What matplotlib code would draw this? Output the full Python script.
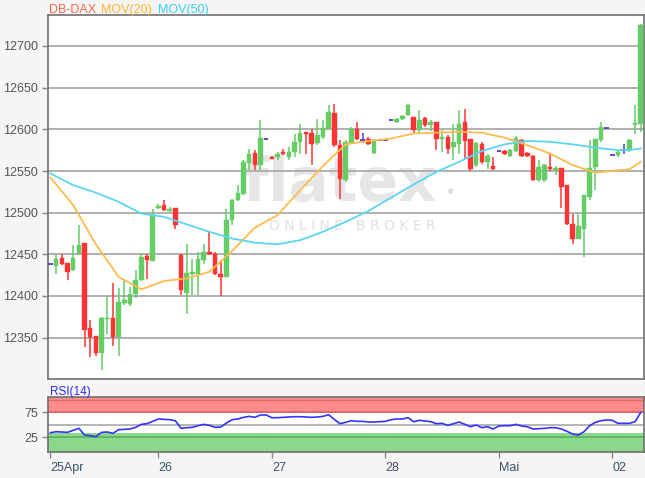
import matplotlib
matplotlib.use("Agg")
import matplotlib.pyplot as plt
import numpy as np

# ---------------- data ----------------
opens = [12438, 12436, 12446, 12439, 12431, 12450, 12463, 12361, 12352, 12332,
         12372, 12374, 12351, 12392, 12391, 12403, 12419, 12448, 12442, 12506,
         12509, 12502, 12505, 12449, 12404, 12427, 12426, 12443, 12453, 12451,
         12426, 12423, 12491, 12515, 12523, 12560, 12571, 12557, 12588, 12567,
         12567, 12573, 12567, 12573, 12585, 12596, 12596, 12584, 12591, 12601,
         12619, 12581, 12539, 12584, 12600, 12587, 12589, 12572, 12587, 12587,
         12611, 12609, 12612, 12617, 12615, 12599, 12613, 12605, 12609, 12589,
         12591, 12579, 12583, 12609, 12589, 12557, 12583, 12561, 12556, 12574,
         12574, 12568, 12574, 12587, 12572, 12568, 12539, 12539, 12555, 12551,
         12554, 12533, 12486, 12469, 12481, 12519, 12555, 12587, 12602, 12569,
         12569, 12575, 12575, 12605, 12607]
closes = [12438, 12445, 12438, 12429, 12446, 12461, 12359, 12351, 12332, 12373,
          12374, 12351, 12393, 12395, 12403, 12419, 12447, 12443, 12497, 12508,
          12503, 12505, 12485, 12407, 12428, 12428, 12444, 12453, 12451, 12427,
          12423, 12491, 12515, 12523, 12561, 12570, 12557, 12590, 12588, 12565,
          12571, 12570, 12573, 12585, 12596, 12595, 12583, 12593, 12602, 12621,
          12581, 12541, 12585, 12600, 12589, 12587, 12583, 12587, 12587, 12587,
          12611, 12613, 12616, 12629, 12599, 12611, 12605, 12609, 12589, 12591,
          12577, 12585, 12607, 12586, 12553, 12583, 12561, 12568, 12552, 12574,
          12570, 12575, 12590, 12568, 12568, 12539, 12555, 12557, 12553, 12554,
          12531, 12487, 12469, 12484, 12521, 12554, 12588, 12603, 12602, 12569,
          12573, 12575, 12587, 12607, 12725]
highs = [12438, 12449, 12451, 12440, 12461, 12485, 12464, 12371, 12352, 12375,
         12400, 12416, 12410, 12420, 12411, 12431, 12452, 12451, 12505, 12510,
         12515, 12507, 12506, 12451, 12463, 12445, 12453, 12463, 12477, 12453,
         12443, 12505, 12517, 12533, 12563, 12577, 12575, 12611, 12588, 12568,
         12573, 12576, 12579, 12595, 12607, 12597, 12600, 12613, 12611, 12629,
         12630, 12587, 12587, 12603, 12609, 12596, 12591, 12589, 12587, 12587,
         12611, 12614, 12617, 12631, 12615, 12623, 12615, 12611, 12609, 12599,
         12593, 12607, 12623, 12625, 12589, 12585, 12585, 12570, 12567, 12574,
         12575, 12577, 12592, 12589, 12573, 12569, 12563, 12559, 12571, 12556,
         12554, 12533, 12499, 12498, 12521, 12587, 12589, 12609, 12602, 12569,
         12575, 12583, 12588, 12629, 12727]
lows = [12438, 12426, 12437, 12419, 12430, 12450, 12339, 12327, 12328, 12311,
        12355, 12340, 12328, 12389, 12388, 12398, 12418, 12420, 12442, 12504,
        12502, 12501, 12481, 12401, 12379, 12401, 12401, 12439, 12449, 12425,
        12400, 12423, 12485, 12514, 12521, 12551, 12551, 12551, 12588, 12564,
        12563, 12569, 12563, 12567, 12571, 12571, 12557, 12581, 12589, 12600,
        12579, 12517, 12537, 12583, 12587, 12584, 12581, 12571, 12587, 12587,
        12611, 12608, 12611, 12616, 12595, 12595, 12603, 12598, 12575, 12573,
        12571, 12563, 12570, 12565, 12550, 12555, 12559, 12553, 12551, 12574,
        12569, 12567, 12573, 12567, 12567, 12538, 12537, 12537, 12550, 12545,
        12506, 12485, 12463, 12469, 12447, 12515, 12527, 12585, 12602, 12569,
        12567, 12571, 12573, 12595, 12597]

ma_idx = [0, 4, 8, 12, 16, 20, 24, 28, 32, 36, 40, 44, 48, 52, 56, 60, 64, 68,
          72, 76, 80, 84, 88, 92, 96, 100, 102, 104]
ma20 = [12542, 12509, 12462, 12423, 12408, 12418, 12421, 12429, 12454, 12482,
        12497, 12527, 12556, 12582, 12586, 12589, 12595, 12596, 12597, 12596,
        12590, 12581, 12571, 12557, 12548, 12551, 12552, 12561]
ma50 = [12547, 12533, 12524, 12513, 12499, 12495, 12486, 12477, 12469, 12464,
        12462, 12467, 12477, 12489, 12502, 12518, 12534, 12549, 12561, 12574,
        12582, 12586, 12585, 12582, 12578, 12575, 12575, 12577]

rsi = [34.3, 36.3, 35.7, 35, 39, 43, 29.7, 28.3, 26.3, 35,
       35.7, 33, 40.3, 41, 41.7, 45, 51, 52.3, 57, 61.7,
       61, 60.3, 58.3, 43, 44.3, 45, 48.3, 51, 49, 45,
       45.7, 53.7, 60.3, 61.7, 65, 67, 65, 69.7, 69.7, 64.3,
       64.3, 65, 65.7, 66.3, 66.3, 65.7, 65, 65.7, 67, 70.3,
       61, 52.3, 55, 58.3, 57, 57, 55.7, 55.7, 56.3, 57,
       60.3, 61.7, 61.7, 64.3, 56.3, 59, 57.7, 56.3, 52.3, 53,
       49, 52.3, 55.7, 51, 46.3, 49.7, 44.3, 46.3, 41.7, 47.7,
       48.3, 48.3, 51, 47.7, 46.3, 41.7, 42.3, 43, 44.3, 44.3,
       41.7, 37, 31.7, 29.7, 36.3, 48.3, 55, 58.3, 59.7, 59,
       53, 53, 53, 56.3, 75]

day_idx = [0, 19, 39, 59, 79, 99]
day_labels = ["25Apr", "26", "27", "28", "Mai", "02"]
price_ticks = [12350, 12400, 12450, 12500, 12550, 12600, 12650, 12700]
rsi_ticks = [25, 75]

# ---------------- styling ----------------
plt.rcParams['font.family'] = ['Liberation Sans', 'DejaVu Sans']
GREEN = '#66cc66'
RED = '#ff3333'
FLAT = '#4b3fd0'
W, H = 645, 478

fig = plt.figure(figsize=(W / 100, H / 100), dpi=100, facecolor='#f5f5f5')
ax = fig.add_axes([48 / W, 1 - 379 / H, 596 / W, 364 / H])
rx = fig.add_axes([48 / W, 1 - 452 / H, 596 / W, 55 / H])

n = len(opens)
x = np.arange(n)
o = np.array(opens, float); c = np.array(closes, float)
hi = np.array(highs, float); lo = np.array(lows, float)

# watermark
ax.text(0.49, 0.535, "flatex", transform=ax.transAxes, ha='center', va='center',
        fontsize=43, fontweight='bold', family='DejaVu Sans', color='#e6e6e6', zorder=0.5)
ax.text(0.676, 0.515, "\u25CF", transform=ax.transAxes, ha='center', va='center',
        fontsize=9, color='#e0e0e0', zorder=0.5)
ax.text(0.51, 0.42, "O N L I N E   B R O K E R", transform=ax.transAxes, ha='center',
        va='center', fontsize=10, family='DejaVu Sans', color='#e0e0e0', zorder=0.5)

# candles
bw = 0.8
for i in range(n):
    if c[i] > o[i]:
        col = GREEN
    elif c[i] < o[i]:
        col = RED
    else:
        col = FLAT
    if hi[i] > lo[i]:
        ax.vlines(x[i], lo[i], hi[i], color=col, lw=1.1, zorder=3)
    if col == FLAT:
        ax.hlines(o[i], x[i] - bw / 2, x[i] + bw / 2, color=col, lw=1.3, zorder=4)
    else:
        b = min(o[i], c[i]); h = max(abs(c[i] - o[i]), 1.3)
        ax.bar(x[i], h, bottom=b, width=bw, color=col, edgecolor=col, lw=0.3, zorder=4)

ax.plot(ma_idx, ma20, color='#ffbb4d', lw=1.3, zorder=5)
ax.plot(ma_idx, ma50, color='#5ad6f2', lw=1.3, zorder=5)

ax.set_xlim(-0.44, 104.57)
ax.set_ylim(12300.4, 12737.2)
ax.set_yticks(price_ticks)
ax.set_yticklabels([str(v) for v in price_ticks])
ax.grid(axis='y', color='#b0b0b0', lw=1.4, zorder=1)
ax.set_axisbelow(True)
ax.tick_params(axis='y', length=4, width=1, color='#888888', pad=3, labelsize=9, labelcolor='#555555')
ax.tick_params(axis='x', bottom=False, labelbottom=False)
ax.set_facecolor('white')
for s in ax.spines.values():
    s.set_color('#707070'); s.set_linewidth(1.2)

# title
fig.text(48.5 / W, 1 - 13 / H, "DB-DAX", color='#f86a4e', fontsize=9, va='baseline')
fig.text(100.8 / W, 1 - 13 / H, "MOV(20)", color='#ffb530', fontsize=9, va='baseline')
fig.text(158.4 / W, 1 - 13 / H, "MOV(50)", color='#38d0f0', fontsize=9, va='baseline')

# RSI panel
rx.set_facecolor('white')
rx.axhspan(74.5, 110, color='#ff8c8c', zorder=1, lw=0)
rx.axhspan(-10, 33, color='#8ad88a', zorder=1, lw=0)
rx.axhline(100, color='#e06a6a', lw=1.0, zorder=2)
rx.axhline(75, color='#d86060', lw=1.2, zorder=2)
rx.axhline(50, color='#a8a8a8', lw=1.2, zorder=2)
rx.axhline(25, color='#5cb05c', lw=1.2, zorder=2)
rx.plot(x, rsi, color='#3333ff', lw=1.2, zorder=4)
rx.set_xlim(-0.44, 104.57)
rx.set_ylim(-4.3, 105.7)
rx.set_yticks(rsi_ticks)
rx.set_yticklabels([str(v) for v in rsi_ticks])
rx.tick_params(axis='y', length=4, width=1, color='#888888', pad=3, labelsize=9, labelcolor='#555555')
rx.set_xticks(day_idx)
rx.set_xticklabels(day_labels)
rx.tick_params(axis='x', length=4, width=1, color='#888888', pad=3, labelsize=9, labelcolor='#3d5166')
for lbl in rx.get_xticklabels():
    lbl.set_ha('left')
for s in rx.spines.values():
    s.set_color('#707070'); s.set_linewidth(1.2)
fig.text(50 / W, 1 - 395 / H, "RSI(14)", color='#2b2bff', fontsize=8.5, va='baseline')

fig.savefig("out.png", dpi=100, facecolor=fig.get_facecolor())
